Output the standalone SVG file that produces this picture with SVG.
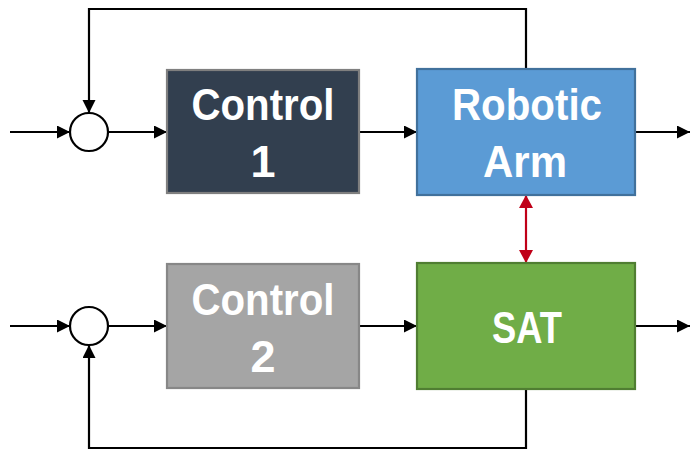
<svg xmlns="http://www.w3.org/2000/svg" width="690" height="451" viewBox="0 0 690 451">
<defs>
<marker id="ah" markerUnits="userSpaceOnUse" markerWidth="14" markerHeight="14" refX="13" refY="6.5" orient="auto">
<path d="M0,0 L13,6.5 L0,13 z" fill="#000"/>
</marker>
<marker id="rh" markerUnits="userSpaceOnUse" markerWidth="16" markerHeight="14" refX="13" refY="7" orient="auto">
<path d="M0,0 L13,7 L0,14 z" fill="#C00018"/>
</marker>
<marker id="rt" markerUnits="userSpaceOnUse" markerWidth="16" markerHeight="14" refX="0" refY="7" orient="auto">
<path d="M13,0 L0,7 L13,14 z" fill="#C00018"/>
</marker>
</defs>
<style>
.ln{fill:none;stroke:#000;stroke-width:2.2}
.box{stroke-width:2.2}
.t{font-family:"Liberation Sans",Arial,sans-serif;font-weight:bold;font-size:45px;fill:#fff;text-anchor:middle}
.sum{fill:#fff;stroke:#000;stroke-width:2.2}
</style>
<g id="connectors">
<line class="ln" x1="10" y1="132" x2="70" y2="132" marker-end="url(#ah)"/>
<line class="ln" x1="108" y1="132" x2="167" y2="132" marker-end="url(#ah)"/>
<line class="ln" x1="359" y1="132" x2="417" y2="132" marker-end="url(#ah)"/>
<line class="ln" x1="635" y1="132" x2="690" y2="132" marker-end="url(#ah)"/>
<polyline class="ln" points="526,69 526,9 89,9 89,113" marker-end="url(#ah)"/>
<line class="ln" x1="10" y1="326" x2="70" y2="326" marker-end="url(#ah)"/>
<line class="ln" x1="108" y1="326" x2="167" y2="326" marker-end="url(#ah)"/>
<line class="ln" x1="359" y1="326" x2="417" y2="326" marker-end="url(#ah)"/>
<line class="ln" x1="635" y1="326" x2="690" y2="326" marker-end="url(#ah)"/>
<polyline class="ln" points="526,389 526,448 89,448 89,345" marker-end="url(#ah)"/>
<line x1="526" y1="195" x2="526" y2="263" stroke="#C00018" stroke-width="2.2" marker-start="url(#rt)" marker-end="url(#rh)"/>
</g>
<g id="sum1"><circle class="sum" cx="89" cy="132" r="19"/></g>
<g id="sum2"><circle class="sum" cx="89" cy="326" r="19"/></g>
<g id="control1">
<rect class="box" x="167" y="70" width="192" height="123" fill="#323F4F" stroke="#7F7F7F"/>
<text class="t" x="263" y="120" textLength="143" lengthAdjust="spacingAndGlyphs">Control</text>
<text class="t" x="263" y="177">1</text>
</g>
<g id="robotic-arm">
<rect class="box" x="417" y="69" width="218" height="126" fill="#5B9BD5" stroke="#41719C"/>
<text class="t" x="527" y="120" textLength="150" lengthAdjust="spacingAndGlyphs">Robotic</text>
<text class="t" x="525" y="177" textLength="84" lengthAdjust="spacingAndGlyphs">Arm</text>
</g>
<g id="control2">
<rect class="box" x="167" y="264" width="192" height="124" fill="#A5A5A5" stroke="#878787"/>
<text class="t" x="263" y="315" textLength="143" lengthAdjust="spacingAndGlyphs">Control</text>
<text class="t" x="263" y="372">2</text>
</g>
<g id="sat">
<rect class="box" x="417" y="263" width="218" height="126" fill="#70AD47" stroke="#507E32"/>
<text class="t" x="527" y="343" textLength="70" lengthAdjust="spacingAndGlyphs">SAT</text>
</g>
</svg>
